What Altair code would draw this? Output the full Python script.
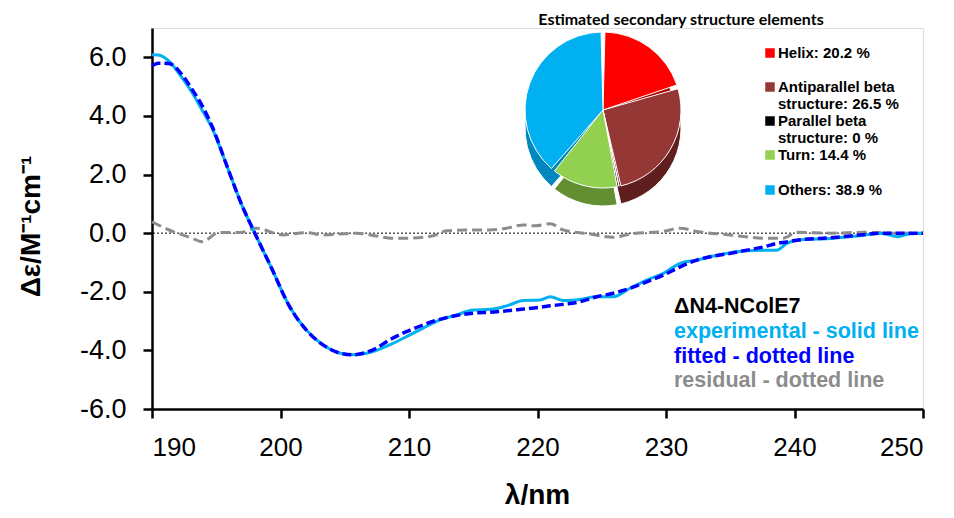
import altair as alt
import pandas as pd

# ---------------- data ----------------
wl_exp = [190.0, 190.5, 191.3, 192.4, 193.1, 193.9, 194.7, 196.0, 197.0, 198.0,
          199.3, 200.7, 202.0, 203.3, 204.6, 205.6, 207.2, 208.5, 209.8, 211.1,
          212.4, 213.7, 215.0, 216.3, 217.6, 218.9, 220.2, 221.0, 222.0, 223.3,
          224.6, 225.9, 227.2, 228.5, 229.8, 231.1, 232.4, 233.7, 235.0, 236.3,
          237.6, 238.6, 239.4, 240.2, 242.8, 245.4, 246.7, 248.0, 249.0, 250.0]
cd_exp = [6.09, 6.08, 5.88, 5.26, 4.81, 4.20, 3.56, 2.09, 0.95, 0.0,
          -1.19, -2.50, -3.30, -3.81, -4.09, -4.15, -4.04, -3.81, -3.53, -3.24,
          -2.96, -2.79, -2.62, -2.60, -2.48, -2.30, -2.28, -2.17, -2.30, -2.26,
          -2.17, -2.17, -1.88, -1.60, -1.37, -1.03, -0.92, -0.78, -0.67, -0.60,
          -0.58, -0.58, -0.35, -0.24, -0.18, -0.07, 0.0, -0.12, -0.02, 0.0]

wl_fit = [190.0, 190.5, 191.3, 192.4, 193.1, 193.9, 194.7, 196.0, 197.0, 198.0,
          199.3, 200.7, 202.0, 203.3, 204.6, 205.6, 207.2, 208.5, 209.8, 211.1,
          212.4, 213.7, 215.0, 216.3, 217.6, 218.9, 220.2, 221.0, 222.0, 223.3,
          224.6, 225.9, 227.2, 228.5, 229.8, 231.1, 232.4, 233.7, 235.0, 236.3,
          237.6, 238.6, 239.4, 240.2, 242.8, 245.4, 246.7, 248.0, 250.0]
cd_fit = [5.71, 5.80, 5.79, 5.37, 4.92, 4.35, 3.62, 2.09, 0.95, 0.0,
          -1.19, -2.50, -3.30, -3.81, -4.09, -4.15, -3.98, -3.64, -3.36, -3.13,
          -2.94, -2.81, -2.73, -2.70, -2.65, -2.59, -2.53, -2.48, -2.43, -2.34,
          -2.17, -2.05, -1.88, -1.66, -1.43, -1.15, -0.92, -0.78, -0.69, -0.58,
          -0.47, -0.35, -0.30, -0.24, -0.16, -0.05, 0.0, 0.0, 0.0]

wl_res = [190.0, 191.6, 193.0, 193.9, 195.2, 196.8, 198.1, 200.2, 202.0, 203.3,
          205.9, 207.5, 208.5, 209.8, 211.9, 212.9, 214.7, 216.3, 217.6, 218.9,
          219.8, 221.0, 222.0, 224.1, 225.9, 227.2, 229.8, 231.1, 232.4, 235.0,
          237.6, 239.1, 240.2, 242.8, 245.4, 248.0, 250.0]
cd_res = [0.39, 0.06, -0.15, -0.29, 0.02, 0.02, 0.17, -0.06, 0.02, -0.06,
          0.0, -0.10, -0.17, -0.17, -0.09, 0.08, 0.11, 0.11, 0.17, 0.28,
          0.25, 0.32, 0.11, -0.03, -0.14, -0.03, 0.06, 0.17, 0.06, -0.06,
          -0.17, -0.17, 0.03, 0.0, 0.03, 0.0, 0.0]

x_ticks = [190, 200, 210, 220, 230, 240, 250]
y_ticks = [-6, -4, -2, 0, 2, 4, 6]

ss_names = ["Helix", "Antiparallel beta\nstructure", "Parallel beta\nstructure", "Turn", "Others"]
ss_values = [20.2, 26.5, 0.0, 14.4, 38.9]
ss_colors = ["#FF0000", "#953735", "#000000", "#92D050", "#00B0F0"]
ss_side_colors = ["#B00000", "#5E1F1E", "#000000", "#638F32", "#0087BD"]

pie_title = "Estimated secondary structure elements"
sample_label = "\u0394N4-NColE7"
series_labels = ["experimental - solid line", "fitted - dotted line", "residual - dotted line"]
series_colors = ["#00B0F0", "#0000FF", "#8C8C8C"]

# ---------------- layout ----------------
W, H = 771, 381
FONT = "Liberation Sans"

df_exp = pd.DataFrame({"wl": wl_exp, "cd": cd_exp})
df_fit = pd.DataFrame({"wl": wl_fit, "cd": cd_fit})
df_res = pd.DataFrame({"wl": wl_res, "cd": cd_res})
df_pie = pd.DataFrame({"name": ss_names, "value": ss_values, "idx": list(range(len(ss_names)))})

xscale = alt.Scale(domain=[190, 250], nice=False, zero=False)
yscale = alt.Scale(domain=[-6, 7], nice=False, zero=False)

x_axis = alt.Axis(values=x_ticks, format="d", grid=False, labelFont=FONT, labelFontSize=26,
                  labelColor="#000", labelPadding=16, tickSize=9, tickWidth=2.5,
                  tickColor="#000", domainColor="#000", domainWidth=2.5,
                  title="\u03bb/nm", titleFont=FONT, titleFontSize=28, titleFontWeight="bold",
                  titleColor="#000", titleX=385, titleY=94, titleBaseline="alphabetic")
y_axis = alt.Axis(values=y_ticks, grid=False, labelFont=FONT, labelFontSize=27,
                  labelExpr="replace(format(datum.value, '.1f'), '\u2212', '-')",
                  labelColor="#000", labelPadding=17, tickSize=9, tickWidth=2.5,
                  tickColor="#000", domainColor="#000", domainWidth=2.5,
                  title="\u0394\u03b5/M\u207b\u00b9cm\u207b\u00b9", titleFont=FONT, titleFontSize=28,
                  titleFontWeight="bold", titleColor="#000", titleX=-121, titleY=198,
                  titleBaseline="middle", titleAlign="center", titleAngle=270)

zero = alt.Chart(pd.DataFrame({"cd": [0.0]})).mark_rule(
    color="#000", strokeWidth=1, strokeDash=[2, 2]
).encode(y=alt.Y("cd:Q", scale=yscale, axis=y_axis))

res_line = alt.Chart(df_res).mark_line(
    color=series_colors[2], strokeWidth=3, strokeDash=[10, 5], interpolate="monotone"
).encode(x=alt.X("wl:Q", scale=xscale, axis=x_axis), y=alt.Y("cd:Q", scale=yscale))

exp_line = alt.Chart(df_exp).mark_line(
    color=series_colors[0], strokeWidth=3, interpolate="monotone"
).encode(x=alt.X("wl:Q", scale=xscale), y=alt.Y("cd:Q", scale=yscale))

fit_line = alt.Chart(df_fit).mark_line(
    color=series_colors[1], strokeWidth=3.5, strokeDash=[9, 4], interpolate="monotone"
).encode(x=alt.X("wl:Q", scale=xscale), y=alt.Y("cd:Q", scale=yscale))

# pie (pseudo 3D: darker base + top face)
PIE_X, PIE_Y, PIE_R, DEPTH = 451, 82, 78, 18
pie_side = alt.Chart(df_pie).mark_arc(
    radius=PIE_R, padAngle=0.05, stroke="white", strokeWidth=1
).encode(
    theta=alt.Theta("value:Q", stack=True),
    order=alt.Order("idx:Q"),
    color=alt.Color("name:N", scale=alt.Scale(domain=ss_names, range=ss_side_colors), legend=None),
    x=alt.value(PIE_X), y=alt.value(PIE_Y + DEPTH),
)
pie_top = alt.Chart(df_pie).mark_arc(
    radius=PIE_R, padAngle=0.05, stroke="white", strokeWidth=1
).encode(
    theta=alt.Theta("value:Q", stack=True),
    order=alt.Order("idx:Q"),
    fill=alt.Fill("name:N", scale=alt.Scale(domain=ss_names, range=ss_colors), legend=None),
    x=alt.value(PIE_X), y=alt.value(PIE_Y),
)

layers = [zero, res_line, exp_line, fit_line, pie_side, pie_top]

layers.append(alt.Chart(pd.DataFrame({"t": [pie_title]})).mark_text(
    font="Lato", fontSize=16, fontWeight="bold", color="#000", align="center", baseline="middle"
).encode(text="t:N", x=alt.value(529), y=alt.value(-8)))

# pie legend
entry_y = [25, 59, 93, 127, 162]
line_h = 17
for i, (nm, val) in enumerate(zip(ss_names, ss_values)):
    label = f"{nm}: {val:g} %"
    layers.append(alt.Chart(pd.DataFrame({"t": [label]})).mark_square(
        size=90, color=ss_colors[i], opacity=1
    ).encode(x=alt.value(618), y=alt.value(entry_y[i])))
    layers.append(alt.Chart(pd.DataFrame({"t": [label]})).mark_text(
        font=FONT, fontSize=15, fontWeight="bold", color="#000", align="left",
        baseline="middle", lineBreak="\n", lineHeight=line_h
    ).encode(text="t:N", x=alt.value(626), y=alt.value(entry_y[i])))

# series annotation
ann_y = [285, 310, 335, 359]
ann_text = [sample_label] + series_labels
ann_col = ["#000000"] + series_colors
for t, yy, c in zip(ann_text, ann_y, ann_col):
    layers.append(alt.Chart(pd.DataFrame({"t": [t]})).mark_text(
        font=FONT, fontSize=21.5, fontWeight="bold", color=c, align="left", baseline="alphabetic"
    ).encode(text="t:N", x=alt.value(522), y=alt.value(yy)))

chart = alt.layer(*layers).resolve_scale(color="independent", fill="independent").properties(
    width=W, height=H,
    padding={"left": 144, "top": 20, "right": 23, "bottom": 100},
    autosize=alt.AutoSizeParams(type="none"),
).configure_view(stroke=None).configure(background="white")

chart.save("out.html", embed_options={"renderer": "svg", "actions": False})
